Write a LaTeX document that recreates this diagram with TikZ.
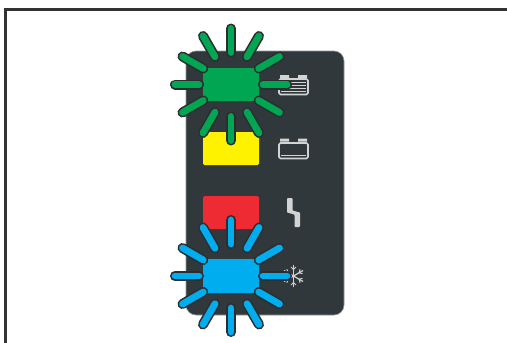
\documentclass[tikz,border=0pt]{standalone}
\usetikzlibrary{calc}
\definecolor{panel}{HTML}{30383C}
\definecolor{frameC}{HTML}{333333}
\definecolor{rayedge}{HTML}{2A2E31}
\definecolor{ledgreen}{HTML}{00A651}
\definecolor{ledyellow}{HTML}{FFF200}
\definecolor{ledred}{HTML}{EE2A33}
\definecolor{ledblue}{HTML}{00AEEF}
\definecolor{icon}{HTML}{D2D4D4}
\tikzset{
  led/.style={rectangle,rounded corners=1.5pt,minimum width=56pt,minimum height=33pt,inner sep=0pt,draw=none},
  iconline/.style={draw=icon,line width=1.6pt,line join=round},
  iconthin/.style={draw=icon,line width=1pt},
}
\newcommand{\burst}[2]{%
  \foreach \a in {0,30,...,330}{
    \draw[rayedge,line width=10pt,line cap=round] ($(#1)+(\a:32)$) -- ($(#1)+(\a:56)$);
    \draw[#2,line width=6.8pt,line cap=round] ($(#1)+(\a:32)$) -- ($(#1)+(\a:56)$);
  }}
\begin{document}
\begin{tikzpicture}[x=1pt,y=-1pt]
\useasboundingbox (0,0) rectangle (507,343);
\fill[white] (0,0) rectangle (507,343);
% frame
\draw[frameC,line width=3pt] (5.5,343) -- (5.5,9.5) -- (507,9.5);
% panel
\fill[panel,draw=icon!60!panel,line width=0.6pt,rounded corners=10pt] (186,51) rectangle (344,315);
% LEDs
\node[led,fill=ledyellow] (yellow) at (231,148.5) {};
\node[led,fill=ledred] (red) at (231,212.5) {};
% battery icon 1
\draw[iconline,rounded corners=1.5pt] (279,79) rectangle (308,94.5);
\fill[icon] (280,75) rectangle (289,78) (298,75) rectangle (307,78);
\draw[iconthin] (288,82) -- (306,82) (288,85) -- (306,85) (288,88) -- (306,88);
\draw[iconthin] (281,91.5) -- (306,91.5);
% battery icon 2
\draw[iconline,rounded corners=1.5pt] (279,143) rectangle (308,158.5);
\fill[icon] (280,138.5) rectangle (289,141.5) (298,138.5) rectangle (307,141.5);
\draw[iconthin] (281,155.5) -- (306,155.5);
% lightning
\fill[icon,rounded corners=0.8pt] (287,198) -- (292.5,198) -- (292.5,210.5) -- (300,212.5) -- (300,227) -- (294.5,227) -- (294.5,214.5) -- (287,212.5) -- cycle;
% snowflake
\begin{scope}[shift={(293.5,276)}]
  \foreach \a in {30,90,...,330}{
    \draw[icon,line width=1.2pt] (0,0) -- (\a:11);
    \draw[icon,line width=1pt] (\a:6.5) -- ++(\a+45:3.5) (\a:6.5) -- ++(\a-45:3.5);
  }
\end{scope}
% lit LEDs
\node[led,fill=ledgreen] (green) at (231,84.5) {};
\node[led,fill=ledblue,minimum height=34pt] (blue) at (231,276) {};
\burst{green}{ledgreen}
\burst{blue}{ledblue}
\end{tikzpicture}
\end{document}
